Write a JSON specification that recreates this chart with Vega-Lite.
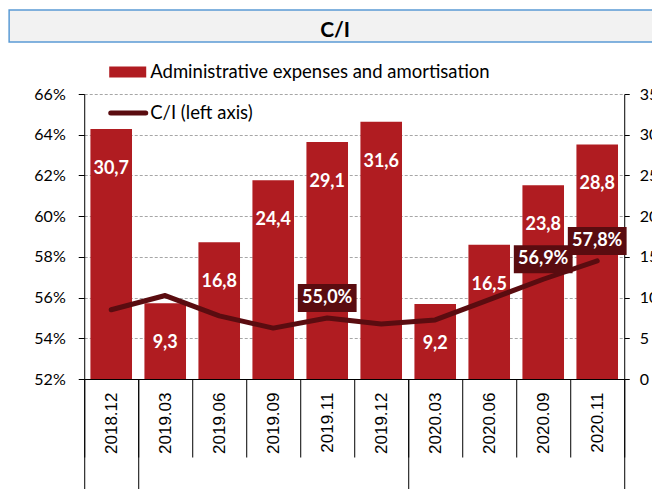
{
  "$schema": "https://vega.github.io/schema/vega-lite/v6.json",
  "padding": {"left": 8, "top": 9, "right": 0, "bottom": 0},
  "background": "white",
  "config": {
    "locale": {"number": {"decimal": ",", "thousands": " ", "grouping": [3], "currency": ["", ""]}},
    "font": "Lato",
    "view": {"stroke": null},
    "axis": {"domainColor": "#000", "tickColor": "#000", "labelColor": "#000", "domainWidth": 1, "tickWidth": 1}
  },
  "datasets": {
    "main": [
      {"date": "2018.12", "expenses": 30.7, "ci": 0.554},
      {"date": "2019.03", "expenses": 9.3, "ci": 0.561},
      {"date": "2019.06", "expenses": 16.8, "ci": 0.551},
      {"date": "2019.09", "expenses": 24.4, "ci": 0.545},
      {"date": "2019.11", "expenses": 29.1, "ci": 0.550},
      {"date": "2019.12", "expenses": 31.6, "ci": 0.547},
      {"date": "2020.03", "expenses": 9.2, "ci": 0.549},
      {"date": "2020.06", "expenses": 16.5, "ci": 0.559},
      {"date": "2020.09", "expenses": 23.8, "ci": 0.569},
      {"date": "2020.11", "expenses": 28.8, "ci": 0.578}
    ]
  },
  "center": true,
  "spacing": 5,
  "vconcat": [
    {
      "width": 723,
      "height": 32,
      "view": {"fill": "#f2f2f2", "stroke": "#5b9bd5", "strokeWidth": 1.5},
      "data": {"values": [{"title": "C/I"}]},
      "mark": {"type": "text", "font": "Lato", "fontWeight": "bold", "fontSize": 21, "color": "#000", "baseline": "middle", "align": "center", "dy": 5, "dx": -35.5},
      "encoding": {"text": {"field": "title", "type": "nominal"}}
    },
    {
      "width": 540,
      "height": 285,
      "data": {"name": "main"},
      "layer": [
        {
          "encoding": {
            "x": {
              "field": "date", "type": "ordinal", "sort": null,
              "scale": {"paddingInner": 0, "paddingOuter": 0},
              "axis": {
                "orient": "bottom", "title": null, "tickBand": "extent", "tickSize": 78,
                "labelAngle": 270, "labelPadding": -65, "labelFont": "Liberation Sans",
                "labelFontSize": 17, "labelOverlap": false, "labelFlush": false
              }
            },
            "y": {
              "field": "expenses", "type": "quantitative",
              "scale": {"domain": [0, 35], "nice": false, "zero": true},
              "axis": {
                "orient": "right", "title": null, "values": [0, 5, 10, 15, 20, 25, 30, 35],
                "format": "d", "grid": false, "tickSize": 5, "labelPadding": 10,
                "labelFontSize": 16, "labelFont": "Lato"
              }
            }
          },
          "layer": [
            {
              "mark": {"type": "bar", "width": {"band": 0.77}},
              "encoding": {
                "fill": {
                  "datum": "Administrative expenses and amortisation",
                  "scale": {"range": ["#b01c21"]},
                  "legend": {
                    "orient": "none", "legendX": 19.5, "legendY": -46, "title": null,
                    "symbolType": "stroke", "symbolSize": 1369, "symbolStrokeWidth": 11,
                    "labelFont": "Lato", "labelFontSize": 18.5, "labelColor": "#000", "labelLimit": 500, "labelOffset": -1.5,
                    "encode": {"symbols": {"update": {"stroke": {"value": "#b01c21"}, "strokeWidth": {"value": 11}, "strokeCap": {"value": "butt"}}}}
                  }
                }
              }
            },
            {
              "mark": {"type": "text", "dy": 40, "font": "Lato", "fontWeight": "bold", "fontSize": 18, "color": "#ffffff", "baseline": "middle"},
              "encoding": {"text": {"field": "expenses", "type": "quantitative", "format": ".1f"}}
            }
          ]
        },
        {
          "encoding": {
            "x": {
              "field": "date", "type": "ordinal", "sort": null,
              "axis": {
                "orient": "bottom", "title": null, "values": ["2018.12", "2019.12", "2020.11"],
                "tickBand": "extent", "tickSize": 110, "labels": false, "domain": false, "grid": false
              }
            },
            "y": {
              "field": "ci", "type": "quantitative",
              "scale": {"domain": [0.52, 0.66], "nice": false, "zero": false},
              "axis": {
                "orient": "left", "title": null, "values": [0.52, 0.54, 0.56, 0.58, 0.6, 0.62, 0.64, 0.66],
                "format": ".0%", "grid": true, "gridDash": [3, 2], "gridColor": "#a6a6a6", "gridWidth": 1,
                "tickSize": 6, "labelPadding": 13, "labelFontSize": 16, "labelFont": "Lato",
                "minExtent": 75, "maxExtent": 75
              }
            }
          },
          "layer": [
            {
              "mark": {"type": "line", "strokeWidth": 5, "strokeCap": "round", "strokeJoin": "round"},
              "encoding": {
                "stroke": {
                  "datum": "C/I (left axis)",
                  "scale": {"range": ["#5a0c10"]},
                  "legend": {
                    "orient": "none", "legendX": 24, "legendY": -1, "title": null,
                    "symbolType": "stroke", "symbolSize": 1225, "symbolStrokeWidth": 5,
                    "labelFont": "Lato", "labelFontSize": 18.5, "labelColor": "#000", "labelLimit": 500, "labelOffset": 2,
                    "encode": {"symbols": {"update": {"strokeCap": {"value": "round"}}}}
                  }
                }
              }
            },
            {
              "transform": [{"filter": {"field": "date", "oneOf": ["2019.11", "2020.09", "2020.11"]}}],
              "mark": {"type": "point", "shape": "M-2.1,-1H2.1V1H-2.1Z", "size": 784, "filled": true, "opacity": 1, "color": "#5a0c10", "yOffset": -20}
            },
            {
              "transform": [{"filter": {"field": "date", "oneOf": ["2019.11", "2020.09", "2020.11"]}}],
              "mark": {"type": "text", "dy": -20, "font": "Lato", "fontWeight": "bold", "fontSize": 18, "color": "#ffffff", "baseline": "middle"},
              "encoding": {"text": {"field": "ci", "type": "quantitative", "format": ".1%"}}
            }
          ]
        }
      ],
      "resolve": {"scale": {"y": "independent", "fill": "independent", "stroke": "independent"}, "axis": {"x": "independent", "y": "independent"}}
    }
  ]
}
